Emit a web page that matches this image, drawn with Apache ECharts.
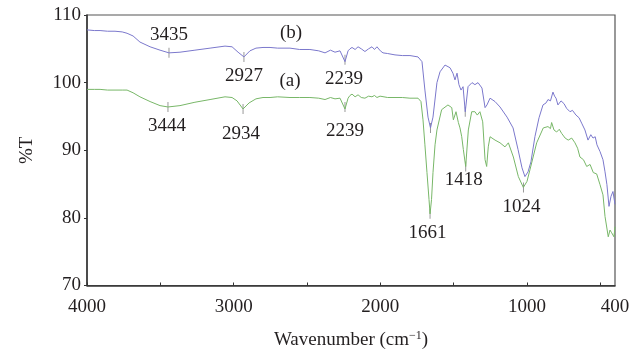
<!DOCTYPE html>
<html>
<head>
<meta charset="utf-8">
<script src="https://cdn.jsdelivr.net/npm/echarts@6/dist/echarts.min.js"></script>
<style>
  html, body { margin: 0; padding: 0; background: #fff; }
  #chart { width: 637px; height: 355px; }
</style>
</head>
<body>
<div id="chart"></div>
<script>
// spectrum (b), wavenumber / %T
const wnB = [4000, 3950, 3911, 3860, 3809, 3760, 3727, 3686, 3639, 3570, 3502, 3441, 3366, 3264, 3161, 3059, 3011, 2970, 2930, 2889, 2848, 2800, 2752, 2700, 2616, 2550, 2480, 2420, 2377, 2340, 2309, 2275, 2241, 2220, 2207, 2193, 2172, 2152, 2130, 2105, 2080, 2057, 2040, 2023, 2000, 1982, 1950, 1900, 1850, 1798, 1743, 1716, 1696, 1675, 1658, 1641, 1614, 1593, 1559, 1525, 1505, 1491, 1477, 1464, 1450, 1436, 1421, 1402, 1375, 1355, 1334, 1307, 1286, 1273, 1252, 1218, 1184, 1136, 1095, 1061, 1034, 1014, 993, 973, 946, 918, 891, 870, 857, 840, 823, 812, 802, 789, 768, 748, 730, 707, 690, 666, 645, 625, 605, 584, 565, 550, 535, 523, 502, 482, 468, 455, 441, 427, 414, 400]
const tB = [107.8, 107.7, 107.7, 107.6, 107.6, 107.5, 107.3, 106.9, 106.0, 105.3, 104.8, 104.4, 104.5, 104.8, 105.1, 105.4, 105.3, 104.5, 103.8, 104.7, 105.1, 105.2, 105.2, 105.1, 105.1, 104.9, 104.9, 104.7, 104.4, 104.8, 104.5, 104.7, 103.1, 104.7, 105.0, 105.2, 104.9, 105.3, 105.0, 104.6, 105.0, 105.3, 104.9, 105.3, 104.7, 104.4, 104.3, 104.1, 104.0, 104.0, 103.8, 103.1, 98.9, 94.9, 93.3, 94.9, 100.0, 101.6, 102.6, 102.2, 101.4, 100.4, 101.4, 99.7, 98.9, 99.4, 95.7, 99.4, 100.0, 99.7, 100.0, 99.2, 96.3, 96.7, 97.7, 97.2, 96.4, 94.9, 93.3, 90.1, 87.4, 86.1, 86.8, 88.3, 92.0, 94.8, 96.7, 97.0, 97.5, 97.3, 98.6, 98.0, 97.7, 96.7, 97.3, 96.9, 96.2, 95.7, 95.9, 95.2, 94.8, 93.9, 93.0, 91.5, 92.3, 91.8, 92.0, 90.8, 89.8, 88.6, 86.8, 84.9, 81.7, 83.2, 83.9, 82.0]

// spectrum (a)
const wnA = [4000, 3950, 3911, 3860, 3809, 3760, 3727, 3686, 3639, 3570, 3502, 3448, 3366, 3264, 3161, 3059, 3011, 2977, 2936, 2895, 2848, 2800, 2752, 2700, 2616, 2550, 2480, 2420, 2377, 2340, 2309, 2275, 2241, 2220, 2207, 2193, 2172, 2152, 2130, 2105, 2080, 2057, 2040, 2023, 2002, 1950, 1900, 1850, 1798, 1743, 1723, 1709, 1696, 1682, 1668, 1661, 1651, 1641, 1627, 1614, 1582, 1539, 1513, 1502, 1484, 1468, 1457, 1445, 1434, 1418, 1400, 1377, 1355, 1339, 1321, 1302, 1286, 1275, 1264, 1252, 1218, 1184, 1150, 1127, 1093, 1059, 1025, 1000, 980, 934, 889, 857, 840, 832, 816, 798, 780, 764, 740, 719, 695, 673, 655, 639, 615, 593, 570, 548, 525, 502, 482, 468, 446, 434, 423, 407, 400]
const tA = [99.0, 99.0, 99.0, 98.9, 98.9, 98.9, 98.9, 98.5, 97.9, 97.2, 96.6, 96.4, 96.6, 97.1, 97.5, 97.9, 97.8, 97.3, 96.1, 97.0, 97.6, 97.8, 97.8, 97.9, 97.8, 97.8, 97.8, 97.7, 97.5, 97.8, 97.6, 97.7, 96.1, 97.7, 98.1, 98.3, 97.9, 98.2, 97.8, 97.7, 98.0, 97.9, 98.1, 97.8, 98.0, 97.8, 97.8, 97.8, 97.7, 97.7, 97.2, 94.5, 90.8, 86.7, 82.7, 80.6, 82.7, 86.7, 90.8, 93.0, 96.0, 96.7, 96.3, 94.5, 95.7, 94.1, 93.3, 92.0, 90.1, 87.6, 93.0, 95.7, 95.7, 95.2, 95.7, 94.2, 88.6, 87.6, 90.5, 92.0, 91.5, 91.1, 90.5, 91.1, 89.0, 86.1, 84.5, 85.4, 87.1, 91.1, 93.3, 93.5, 93.2, 94.1, 93.0, 92.7, 93.1, 92.5, 91.8, 91.5, 91.8, 91.1, 90.3, 89.0, 88.6, 87.6, 87.9, 86.7, 86.5, 84.9, 83.4, 80.2, 77.2, 78.2, 77.8, 77.2, 78.7]

// peak tick marks on the curves
const markWn = [3441, 2930, 2241, 1658, 1421, 3448, 2936, 2241, 1661, 1418, 1024]
const markT = [104.4, 103.8, 103.4, 93.3, 95.7, 96.4, 96.1, 96.4, 80.6, 87.6, 84.5]

// text annotations
const noteText = ['3435', '2927', '(b)', '2239', '3444', '2934', '(a)', '2239', '1661', '1418', '1024']
const noteWn = [3441, 2930, 2609, 2248, 3455, 2950, 2616, 2241, 1678, 1432, 1037]
const noteT = [107.0, 101.0, 107.3, 100.6, 93.6, 92.4, 100.3, 92.9, 77.8, 85.6, 81.6]

const xTicks = [4000, 3500, 3000, 2500, 2000, 1500, 1000, 500]
const xLabels = [4000, 3000, 2000, 1000, 400]

const font = '"Liberation Serif", "DejaVu Serif", serif'
const ink = '#231f20'

const chart = echarts.init(document.getElementById('chart'))

chart.setOption({
  animation: false,
  grid: { left: 87, right: 22, top: 15, bottom: 69, show: true, borderColor: '#555', borderWidth: 1.2 },
  xAxis: {
    type: 'value', inverse: true, min: 400, max: 4000,
    name: 'Wavenumber (cm{sup|\u22121})', nameLocation: 'middle', nameGap: 44,
    nameTextStyle: {
      fontFamily: font, fontSize: 19, color: ink,
      rich: { sup: { fontFamily: font, fontSize: 12, color: ink, verticalAlign: 'top', padding: [0, 0, 10, 0] } }
    },
    axisLine: { show: true, onZero: false, lineStyle: { color: '#333', width: 1.5 } },
    axisTick: { show: true, inside: true, length: 3, customValues: xTicks, lineStyle: { color: '#333' } },
    axisLabel: { customValues: xLabels, formatter: v => String(v), fontFamily: font, fontSize: 19, color: ink, margin: 12 },
    splitLine: { show: false }
  },
  yAxis: {
    type: 'value', min: 70, max: 110, interval: 10,
    name: '%T', nameLocation: 'middle', nameGap: 50,
    nameTextStyle: { fontFamily: font, fontSize: 19, color: ink },
    axisLine: { show: true, lineStyle: { color: '#333', width: 1.5 } },
    axisTick: { show: true, length: 3, lineStyle: { color: '#333' } },
    axisLabel: { fontFamily: font, fontSize: 19, color: ink, margin: 6 },
    splitLine: { show: false }
  },
  series: [
    {
      type: 'line', name: '(b)', showSymbol: false,
      data: wnB.map((w, i) => [w, tB[i]]),
      lineStyle: { color: '#7b78cc', width: 1 }
    },
    {
      type: 'line', name: '(a)', showSymbol: false,
      data: wnA.map((w, i) => [w, tA[i]]),
      lineStyle: { color: '#78b768', width: 1 }
    },
    {
      type: 'scatter', symbol: 'rect', symbolSize: [1, 10],
      itemStyle: { color: '#999', opacity: 1 },
      data: markWn.map((w, i) => [w, markT[i]])
    },
    {
      type: 'scatter', symbolSize: 0,
      itemStyle: { opacity: 1 },
      data: noteWn.map((w, i) => [w, noteT[i], noteText[i]]),
      label: {
        show: true, position: 'inside', formatter: p => p.data[2],
        fontFamily: font, fontSize: 19, color: ink, opacity: 1
      }
    }
  ]
})
</script>
</body>
</html>
